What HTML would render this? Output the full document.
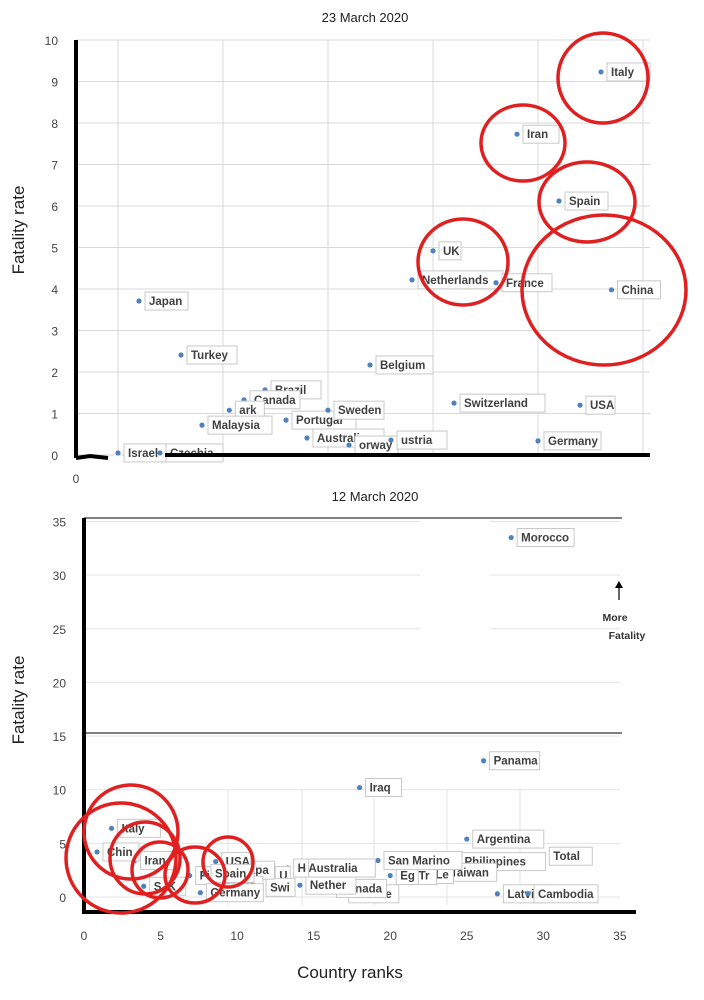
<!DOCTYPE html>
<html><head><meta charset="utf-8">
<style>
body{margin:0;background:#fff;width:704px;height:995px;overflow:hidden;font-family:"Liberation Sans",sans-serif}
svg text{font-family:"Liberation Sans",sans-serif}
.lbl{font-size:11.5px;font-weight:bold;fill:#404040}
</style></head>
<body>
<svg id="s" width="704" height="995" xmlns="http://www.w3.org/2000/svg">
<text x="365" y="22" text-anchor="middle" font-size="13" fill="#222">23 March 2020</text>
<text x="375" y="501" text-anchor="middle" font-size="13" fill="#222">12 March 2020</text>
<text transform="translate(24,230) rotate(-90)" text-anchor="middle" font-size="17" fill="#222">Fatality rate</text>
<text transform="translate(24,700) rotate(-90)" text-anchor="middle" font-size="17" fill="#222">Fatality rate</text>
<text x="350" y="978" text-anchor="middle" font-size="17" fill="#222">Country ranks</text>
<text x="76" y="483" text-anchor="middle" font-size="12" fill="#444">0</text>
<g id="top"></g>
<g id="bot"></g>
</svg>
<script>
// ---- top chart data (23 March 2020) ----
const topNames=["Italy","Iran","Spain","UK","Netherlands","France","China","Japan","Turkey","Belgium","Switzerland","USA","Germany","Brazil","Canada","ark","Malaysia","Portugal","Sweden","Australia","orway","ustria","Israel","Czechia"];
const topRanks=[25,21,23,17,16,20,25.5,3,5,14,18,24,22,9,8,7.3,6,10,12,11,13,15,2,4];
const topRates=[9.23,7.73,6.12,4.92,4.22,4.15,3.98,3.71,2.41,2.17,1.25,1.2,0.34,1.57,1.33,1.08,0.72,0.84,1.08,0.41,0.24,0.36,0.05,0.05];
const topYTicks=[0,1,2,3,4,5,6,7,8,9,10];
// ---- bottom chart data (12 March 2020) ----
const botNames=["Morocco","Panama","Iraq","Argentina","Total","Philippines","Taiwan","Le","Tr","Eg","San Marino","Greece","Canada","Nether","Australia","H","U","Swi","Japa","USA","Dia","Fi","Spain","Germany","S. K","Iran","Italy","Chin","Latvi","Cambodia"];
const botRanks=[27.9,26.1,18,25,30,24.2,23.3,22.3,21.2,20,19.2,16.9,16.1,14.1,14,13.3,12.1,11.5,9.7,8.6,9.4,6.9,7.9,7.6,3.9,3.3,1.8,0.85,27,29];
const botRates=[33.5,12.7,10.2,5.4,3.8,3.3,2.3,2.1,2.0,2.0,3.4,0.3,0.8,1.1,2.7,2.7,2.0,0.9,2.5,3.3,1.1,2.0,2.2,0.4,1.0,3.4,6.4,4.2,0.3,0.3];
const botYTicks=[0,5,10,15,20,25,30,35];
const botXTicks=[0,5,10,15,20,25,30,35];

const NS="http://www.w3.org/2000/svg";
function mk(p,t,a){const e=document.createElementNS(NS,t);for(const k in a)e.setAttribute(k,a[k]);p.appendChild(e);return e;}
const tx=v=>76+v*21, ty=v=>455-v*41.5;
const bx=v=>84+v*15.31, by=v=>897-v*10.73;
const T=document.getElementById('top'), B=document.getElementById('bot');

// top grid
topYTicks.forEach(v=>{
  const l=mk(T,'line',{x1:76,x2:650,y1:ty(v),y2:ty(v),stroke:'#d9d9d9'});
  
  
  const t=mk(T,'text',{x:58,y:ty(v)+5,'text-anchor':'end','font-size':12,fill:'#444'});t.textContent=v;
  
  
});
[2,7,12,17,22,27].forEach(v=>{
  const l=mk(T,'line',{x1:tx(v),x2:tx(v),y1:40,y2:455,stroke:'#d9d9d9'});
  
  
});
function drawPts(G,names,xs,ys,fx,fy,pre){
  names.forEach((n,i)=>{
    const x=fx(xs[i]),y=fy(ys[i]);
    const w=n.length*7+8;
    const r=mk(G,'rect',{x:x+6,y:y-9,width:w,height:18,fill:'#fff',stroke:'#c8c8c8'});
    
    
    const c=mk(G,'circle',{cx:x,cy:y,r:2.6,fill:'#4f81bd'});
    
    
    const t=mk(G,'text',{x:x+10,y:y+4,class:'lbl'});t.textContent=n;
    
    
  });
}
drawPts(T,topNames,topRanks,topRates,tx,ty,'top');
// top axes
mk(T,'line',{x1:76,x2:76,y1:40,y2:458,stroke:'#000','stroke-width':4});
mk(T,'path',{d:'M76 458 L90 456 L108 458',stroke:'#000','stroke-width':4,fill:'none'});
mk(T,'line',{x1:165,x2:650,y1:455,y2:455,stroke:'#000','stroke-width':4});
[[603,78,45,45],[523,143,42,38],[587,202,48,40],[463,262,45,43],[604,290,82,75]].forEach(c=>{
  const e=mk(T,'ellipse',{cx:c[0],cy:c[1],rx:c[2],ry:c[3],fill:'none',stroke:'#e02020','stroke-width':3.5});
  
  
});

// bottom grid
botYTicks.forEach(v=>{
  const t=mk(B,'text',{x:66,y:by(v)+5,'text-anchor':'end','font-size':12,fill:'#444'});t.textContent=v;
  
  
  const l=mk(B,'line',{x1:84,x2:620,y1:by(v),y2:by(v),stroke:'#e3e3e3'});
  
  
});
[228,302,374,447,520].forEach(x=>mk(B,'line',{x1:x,x2:x,y1:790,y2:905,stroke:'#e3e3e3'}));
botXTicks.forEach(v=>{
  const t=mk(B,'text',{x:bx(v),y:940,'text-anchor':'middle','font-size':12,fill:'#444'});t.textContent=v;
  
  
});
mk(B,'line',{x1:84,x2:622,y1:518,y2:518,stroke:'#000'});
mk(B,'line',{x1:84,x2:622,y1:733,y2:733,stroke:'#000'});
mk(B,'rect',{x:420,y:520,width:70,height:160,fill:'#fff'});
drawPts(B,botNames,botRanks,botRates,bx,by,'bottom');
mk(B,'line',{x1:84,x2:84,y1:518,y2:914,stroke:'#000','stroke-width':4});
mk(B,'line',{x1:82,x2:636,y1:912,y2:912,stroke:'#000','stroke-width':4});
// annotation
mk(B,'line',{x1:619,x2:619,y1:600,y2:585,stroke:'#000','stroke-width':1.2});
mk(B,'path',{d:'M615 588 L619 581 L623 588 Z',fill:'#000'});
const a1=mk(B,'text',{x:615,y:621,'text-anchor':'middle','font-size':10.5,'font-weight':'bold',fill:'#333'});a1.textContent='More';


const a2=mk(B,'text',{x:627,y:639,'text-anchor':'middle','font-size':10.5,'font-weight':'bold',fill:'#333'});a2.textContent='Fatality';


[[131,832,47,47],[121,858,55,55],[145,858,35,36],[195,875,30,28],[228,862,25,25],[160,870,28,28]].forEach(c=>{
  const e=mk(B,'ellipse',{cx:c[0],cy:c[1],rx:c[2],ry:c[3],fill:'none',stroke:'#e02020','stroke-width':3.5});
  
  
});
</script>
</body></html>
